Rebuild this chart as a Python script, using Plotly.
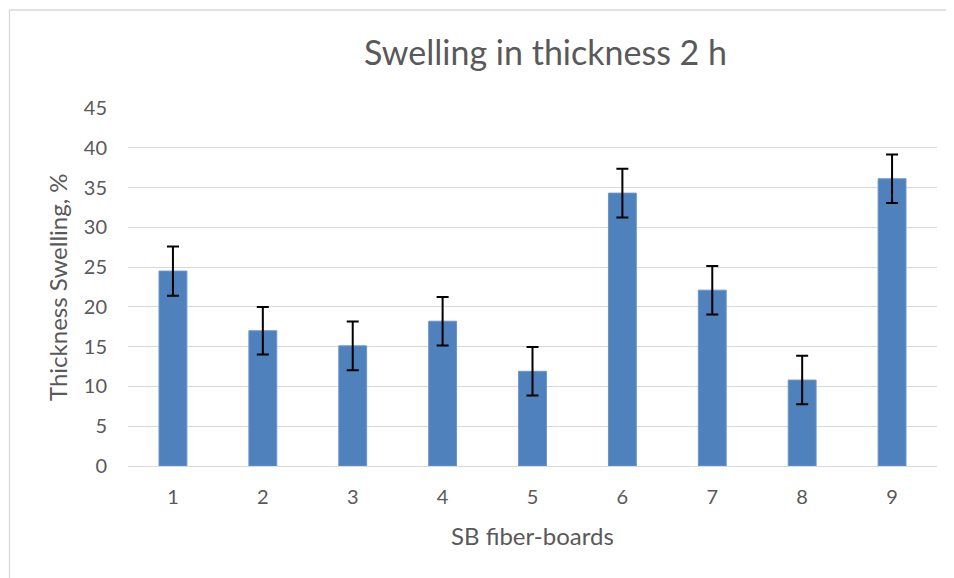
import plotly.graph_objects as go

categories = ["1", "2", "3", "4", "5", "6", "7", "8", "9"]
swelling = [24.5, 17.0, 15.1, 18.2, 11.9, 34.3, 22.1, 10.8, 36.1]
errors = [3.1, 3.0, 3.05, 3.05, 3.05, 3.05, 3.05, 3.05, 3.05]
y_ticks = [0, 5, 10, 15, 20, 25, 30, 35, 40, 45]

# page has an 8px body margin; figure coordinates = page coordinates - 8
OFF = 8
W, H = 954 - OFF, 578 - OFF
L = 128 - OFF
T = 108 - OFF
R = W - (937 - OFF)
B = H - (466 - OFF)
pw, ph = W - L - R, H - T - B
FONT = "Lato, 'Open Sans', sans-serif"
GRAY = "#595959"


def px(xp):  # page x -> paper x
    return (xp - OFF - L) / pw


def py(yp):  # page y -> paper y
    return (H - B - (yp - OFF)) / ph


fig = go.Figure(go.Bar(
    x=categories, y=swelling,
    marker=dict(color="#4f81bd", line=dict(color="#6a95c9", width=1)),
    error_y=dict(type="data", array=errors, visible=True,
                 color="black", thickness=2, width=6),
    width=0.31,
))

fig.update_layout(
    width=W, height=H,
    margin=dict(l=L, r=R, t=T, b=B),
    paper_bgcolor="white", plot_bgcolor="white",
    showlegend=False,
    xaxis=dict(
        tickfont=dict(family=FONT, size=20, color=GRAY),
        showgrid=False, showline=False, ticks="", ticklabelstandoff=17,
    ),
    yaxis=dict(
        tickfont=dict(family=FONT, size=20, color=GRAY),
        range=[0, 45], tickvals=y_ticks, showgrid=True,
        gridcolor="#d9d9d9", gridwidth=1.3, zeroline=True,
        zerolinecolor="#d9d9d9", zerolinewidth=1.3, showline=False, ticks="",
        ticklabelstandoff=20,
    ),
    annotations=[
        dict(text="Swelling in thickness 2 h", xref="paper", yref="paper",
             x=px(545), y=py(52), xanchor="center", yanchor="middle", showarrow=False,
             font=dict(family=FONT, size=34, color=GRAY)),
        dict(text="SB fiber-boards", xref="paper", yref="paper",
             x=px(532), y=py(535), xanchor="center", yanchor="middle", showarrow=False,
             font=dict(family=FONT, size=24, color=GRAY)),
        dict(text="Thickness Swelling, %", xref="paper", yref="paper",
             x=px(57), y=py(287), xanchor="center", yanchor="middle", showarrow=False,
             textangle=-90, font=dict(family=FONT, size=24, color=GRAY)),
    ],
    shapes=[dict(type="rect", xref="paper", yref="paper",
                 x0=px(9.5), x1=px(950), y0=py(590), y1=py(10),
                 line=dict(color="#d9d9d9", width=1.3), layer="below")],
)

fig.write_html("out.html")
